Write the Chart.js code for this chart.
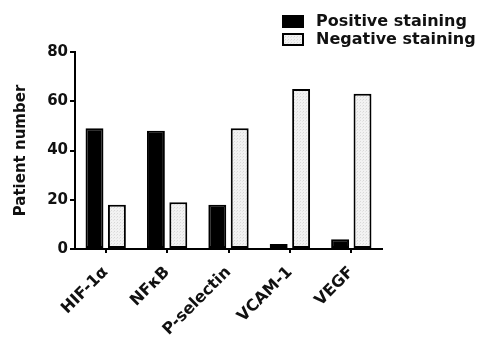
<!DOCTYPE html>
<html>
<head>
<meta charset="utf-8">
<script src="https://cdn.jsdelivr.net/npm/chart.js@4.4.1/dist/chart.umd.min.js"></script>
<style>
  html, body { margin: 0; padding: 0; background: #fff; }
  #wrap { width: 500px; height: 345px; }
</style>
</head>
<body>
<div id="wrap"><canvas id="chart" width="500" height="345"></canvas></div>
<script>
const markers = ["HIF-1\u03b1", "NF\u03baB", "P-selectin", "VCAM-1", "VEGF"];
const positiveStaining = [49, 48, 18, 2, 4];
const negativeStaining = [18, 19, 49, 65, 63];
const yTicks = [0, 20, 40, 60, 80];

const FONT = "'DejaVu Sans', sans-serif";

// dotted light grey fill for the negative bars
function dotPattern() {
  const c = document.createElement("canvas");
  c.width = 3;
  c.height = 3;
  const g = c.getContext("2d");
  g.fillStyle = "#f2f2f2";
  g.fillRect(0, 0, 3, 3);
  g.fillStyle = "#d8d8d8";
  g.fillRect(0, 0, 1, 1);
  g.fillStyle = "#e4e4e4";
  g.fillRect(2, 1, 1, 1);
  return g.createPattern(c, "repeat");
}

// legend drawn in the top right corner, one row per dataset
const cornerLegend = {
  id: "cornerLegend",
  afterDraw(chart) {
    const ctx = chart.ctx;
    ctx.save();
    ctx.font = "bold 16px " + FONT;
    ctx.textBaseline = "middle";
    chart.data.datasets.forEach((ds, i) => {
      const y = 16 + i * 18;
      ctx.fillStyle = ds.backgroundColor;
      ctx.fillRect(283, y, 20, 11);
      ctx.strokeStyle = "#000";
      ctx.lineWidth = 2;
      ctx.strokeRect(283, y, 20, 11);
      ctx.fillStyle = "#111";
      ctx.fillText(ds.label, 316, y + 6);
    });
    ctx.restore();
  }
};

const ctx = document.getElementById("chart").getContext("2d");
new Chart(ctx, {
  type: "bar",
  data: {
    labels: markers,
    datasets: [
      {
        label: "Positive staining",
        data: positiveStaining,
        backgroundColor: "#000",
        borderColor: "#000",
        borderWidth: 2,
        borderSkipped: false,
      },
      {
        label: "Negative staining",
        data: negativeStaining,
        backgroundColor: dotPattern(),
        borderColor: "#000",
        borderWidth: 2,
        borderSkipped: false,
      },
    ],
  },
  options: {
    responsive: false,
    animation: false,
    categoryPercentage: 0.73,
    barPercentage: 0.8,
    layout: { padding: { top: 52, right: 118, left: 12, bottom: 0 } },
    plugins: {
      legend: { display: false },
      tooltip: { enabled: false },
    },
    scales: {
      x: {
        offset: true,
        afterFit: (s) => { s.height = 96; },
        border: { color: "#000", width: 2 },
        grid: { display: true, drawOnChartArea: false, offset: false, color: "#000", lineWidth: 2, tickLength: 4 },
        ticks: {
          color: "#111",
          font: { family: FONT, weight: "bold", size: 16 },
          minRotation: 45,
          maxRotation: 45,
          padding: 10,
        },
      },
      y: {
        min: 0,
        max: 80,
        afterFit: (s) => { s.width = 63; },
        afterBuildTicks: (s) => { s.ticks = yTicks.map((v) => ({ value: v })); },
        border: { color: "#000", width: 2 },
        grid: { display: true, drawOnChartArea: false, color: "#000", lineWidth: 2, tickLength: 5 },
        ticks: {
          color: "#111",
          font: { family: FONT, weight: "bold", size: 15 },
          padding: 2,
        },
        title: {
          display: true,
          text: "Patient number",
          color: "#111",
          font: { family: FONT, weight: "bold", size: 15 },
          padding: { top: 0, bottom: 0 },
        },
      },
    },
  },
  plugins: [cornerLegend],
});
</script>
</body>
</html>
